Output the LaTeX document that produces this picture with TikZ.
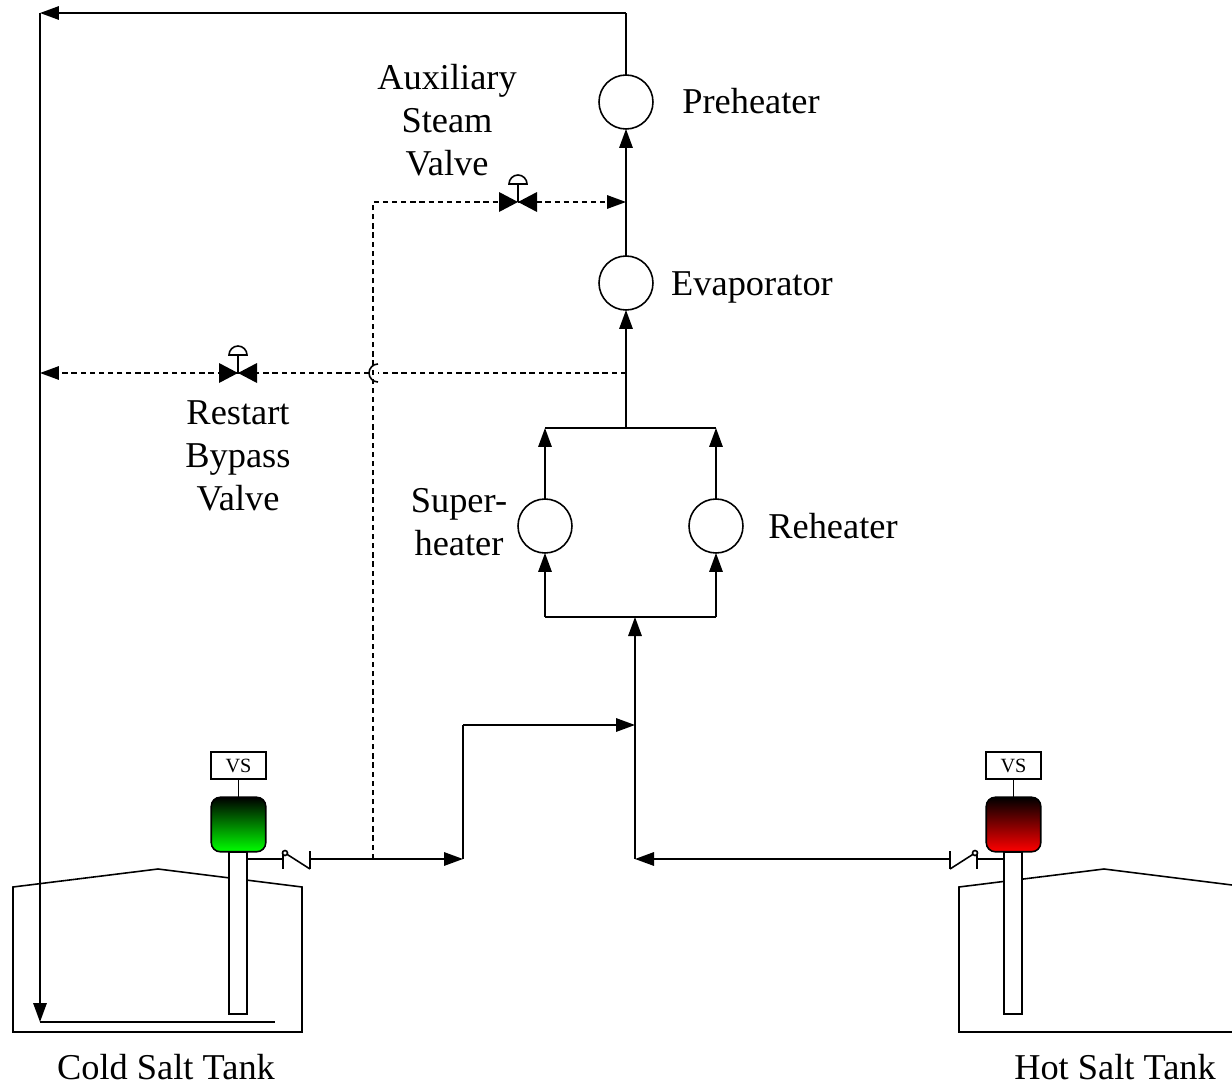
\documentclass[tikz,border=0pt]{standalone}
\usepackage{fontspec}
\setmainfont{Liberation Serif}
\usetikzlibrary{arrows.meta}

\tikzset{
    flowline/.style={line width=0.9pt, -{Triangle[length=0.38cm, width=0.27cm]}},
    plainline/.style={line width=0.9pt},
    dashline/.style={line width=0.9pt, dash pattern=on 3pt off 2.2pt},
    exchanger/.style={circle, draw, line width=0.9pt, minimum size=1.08cm, inner sep=0pt, outer sep=0pt},
    pumpbox/.style={rectangle, rounded corners=0.18cm, draw, line width=0.9pt, minimum size=1.09cm, inner sep=0pt, outer sep=0pt},
    vsbox/.style={rectangle, draw, fill=white, line width=0.9pt, minimum width=1.09cm, minimum height=0.53cm, inner sep=0pt, outer sep=0pt, font=\fontsize{11.5}{13}\selectfont},
    shaftbox/.style={rectangle, draw, fill=white, line width=0.9pt, minimum width=0.36cm, minimum height=3.24cm, inner sep=0pt, outer sep=0pt},
    label/.style={align=center, inner sep=0pt, font=\fontsize{20.7}{24.6}\selectfont},
    valve/.pic={
        \fill (-19,-10) -- (19,10) -- (19,-10) -- (-19,10) -- cycle;
        \draw[plainline] (0,0) -- (0,-18);
        \draw[plainline, fill=white] (-9,-18) arc[start angle=180, end angle=0, radius=0.18cm] -- cycle;
    }
}

\begin{document}
\begin{tikzpicture}[x=0.02cm, y=-0.02cm]
    \useasboundingbox (0,0) rectangle (1232,1085);

    % Tanks
    \draw[plainline] (13,887) -- (158,869) -- (302,887) -- (302,1032) -- (13,1032) -- cycle;
    \draw[plainline] (1232,885) -- (1104,869) -- (959,887) -- (959,1032) -- (1232,1032);
    \node[shaftbox] (coldshaft) at (238,933) {};
    \node[shaftbox] (hotshaft) at (1013,933) {};

    % Pumps
    \node[pumpbox, top color=black, bottom color=green] (coldpump) at (238.5,824.5) {};
    \node[pumpbox, top color=black, bottom color=red] (hotpump) at (1013.5,824.5) {};
    \node[vsbox] (coldvs) at (238.5,765.5) {VS};
    \node[vsbox] (hotvs) at (1013.5,765.5) {VS};
    \draw[plainline] (coldvs) -- (coldpump);
    \draw[plainline] (hotvs) -- (hotpump);

    % Heat exchangers
    \node[exchanger] (preheater) at (626,102) {};
    \node[exchanger] (evaporator) at (626,283) {};
    \node[exchanger] (superheater) at (545,526) {};
    \node[exchanger] (reheater) at (716,526) {};

    % Labels
    \node[label] (preheaterlabel) at (751,101) {Preheater};
    \node[label] (evaporatorlabel) at (752,287) {Evaporator};
    \node[label] (reheaterlabel) at (833,526) {Reheater};
    \node[label] (superheaterlabel) at (459,522) {Super-\\heater};
    \node[label] (auxlabel) at (447,120) {Auxiliary\\Steam\\Valve};
    \node[label] (restartlabel) at (238,456) {Restart\\Bypass\\Valve};
    \node[label] (coldlabel) at (166,1067) {Cold Salt Tank};
    \node[label] (hotlabel) at (1115,1067) {Hot Salt Tank};

    % Junction points
    \coordinate (topright) at (626,13);
    \coordinate (topleft) at (40,13);
    \coordinate (tankbottom) at (40,1022);
    \coordinate (tankend) at (275,1022);
    \coordinate (auxjoin) at (626,202);
    \coordinate (auxvalve) at (518,202);
    \coordinate (auxcorner) at (373,202);
    \coordinate (auxfoot) at (373,859);
    \coordinate (restartjoin) at (626,373);
    \coordinate (restartvalve) at (238,373);
    \coordinate (restartend) at (40,373);
    \coordinate (hopright) at (378,373);
    \coordinate (hopleft) at (369,373);
    \coordinate (hoptop) at (378,364);
    \coordinate (upperjoin) at (626,428);
    \coordinate (upperleft) at (545,428);
    \coordinate (upperright) at (716,428);
    \coordinate (lowerjoin) at (635,617);
    \coordinate (lowerleft) at (545,617);
    \coordinate (lowerright) at (716,617);
    \coordinate (risejoin) at (635,725);
    \coordinate (risecorner) at (463,725);
    \coordinate (risefoot) at (463,859);
    \coordinate (hotfoot) at (635,859);

    % Check valves
    \coordinate (coldcheckin) at (283,859);
    \coordinate (coldcheckout) at (310,859);
    \coordinate (hotcheckin) at (977,859);
    \coordinate (hotcheckout) at (950,859);
    \draw[plainline] (coldshaft.east |- coldcheckin) -- (coldcheckin);
    \draw[plainline] (283,851) -- (283,869);
    \draw[plainline] (310,851) -- (310,869);
    \draw[plainline] (285,853) -- (310,869);
    \draw[plainline, fill=white] (285,853) circle[radius=0.05cm];
    \draw[plainline] (hotshaft.west |- hotcheckin) -- (hotcheckin);
    \draw[plainline] (977,851) -- (977,869);
    \draw[plainline] (950,851) -- (950,869);
    \draw[plainline] (975,853) -- (950,869);
    \draw[plainline, fill=white] (975,853) circle[radius=0.05cm];

    % Return line
    \draw[plainline] (preheater) -- (topright);
    \draw[flowline] (topright) -- (topleft);
    \draw[flowline] (topleft) -- (tankbottom);
    \draw[plainline] (tankbottom) -- (tankend);

    % Steam generator train
    \draw[flowline] (evaporator) -- (preheater);
    \draw[flowline] (upperjoin) -- (evaporator);
    \draw[plainline] (upperleft) -- (upperright);
    \draw[flowline] (superheater) -- (upperleft);
    \draw[flowline] (reheater) -- (upperright);
    \draw[plainline] (lowerleft) -- (lowerright);
    \draw[flowline] (lowerleft) -- (superheater);
    \draw[flowline] (lowerright) -- (reheater);

    % Salt supply
    \draw[flowline] (coldcheckout) -- (risefoot);
    \draw[plainline] (risefoot) -- (risecorner);
    \draw[flowline] (risecorner) -- (risejoin);
    \draw[flowline] (hotfoot) -- (lowerjoin);
    \draw[flowline] (hotcheckout) -- (hotfoot);

    % Dashed lines
    \draw[dashline] (auxfoot) -- (auxcorner) -- (auxvalve);
    \draw[dashline, -{Triangle[length=0.38cm, width=0.27cm]}] (auxvalve) -- (auxjoin);
    \draw[dashline] (restartjoin) -- (hopright);
    \draw[dashline, -{Triangle[length=0.38cm, width=0.27cm]}] (hopleft) -- (restartend);
    \draw[plainline] (hoptop) arc[start angle=90, end angle=270, radius=0.18cm];

    % Valves
    \pic at (auxvalve) {valve};
    \pic at (restartvalve) {valve};
\end{tikzpicture}
\end{document}
